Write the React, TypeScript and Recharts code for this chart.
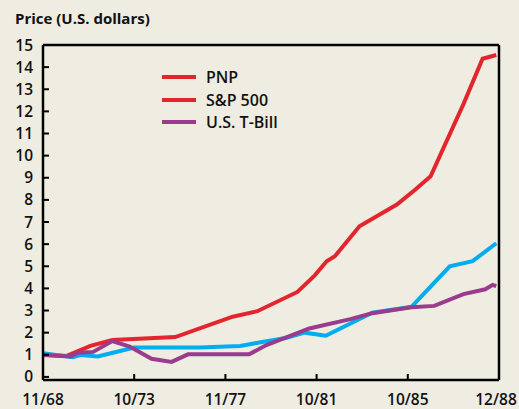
import { LineChart, Line, XAxis, YAxis, ReferenceLine, Legend } from "recharts";

const xLabels = ["11/68", "10/73", "11/77", "10/81", "10/85", "12/88"];
const yTicks = [0, 1, 2, 3, 4, 5, 6, 7, 8, 9, 10, 11, 12, 13, 14, 15];

// t = position along the date axis, measured in tick intervals
const pnp = [
  { t: 0, v: 1.0 }, { t: 0.26, v: 0.95 }, { t: 0.52, v: 1.4 }, { t: 0.76, v: 1.67 },
  { t: 1.45, v: 1.8 }, { t: 2.08, v: 2.72 }, { t: 2.35, v: 2.97 }, { t: 2.79, v: 3.84 },
  { t: 2.98, v: 4.59 }, { t: 3.11, v: 5.23 }, { t: 3.2, v: 5.45 }, { t: 3.47, v: 6.81 },
  { t: 3.88, v: 7.79 }, { t: 4.08, v: 8.46 }, { t: 4.25, v: 9.07 }, { t: 4.61, v: 12.33 },
  { t: 4.82, v: 14.38 }, { t: 4.97, v: 14.55 },
];

const sp500 = [
  { t: 0, v: 1.07 }, { t: 0.33, v: 0.89 }, { t: 0.41, v: 0.99 }, { t: 0.6, v: 0.92 },
  { t: 1.0, v: 1.33 }, { t: 1.72, v: 1.33 }, { t: 2.16, v: 1.4 }, { t: 2.34, v: 1.53 },
  { t: 2.66, v: 1.76 }, { t: 2.87, v: 2.0 }, { t: 3.1, v: 1.86 }, { t: 3.61, v: 2.9 },
  { t: 4.04, v: 3.17 }, { t: 4.46, v: 5.0 }, { t: 4.71, v: 5.23 }, { t: 4.97, v: 6.04 },
];

const tbill = [
  { t: 0, v: 0.99 }, { t: 0.3, v: 0.92 }, { t: 0.38, v: 1.09 }, { t: 0.55, v: 1.13 },
  { t: 0.76, v: 1.62 }, { t: 0.95, v: 1.37 }, { t: 1.19, v: 0.82 }, { t: 1.41, v: 0.68 },
  { t: 1.59, v: 1.02 }, { t: 2.26, v: 1.02 }, { t: 2.45, v: 1.44 }, { t: 2.92, v: 2.19 },
  { t: 3.37, v: 2.61 }, { t: 3.61, v: 2.88 }, { t: 4.04, v: 3.15 }, { t: 4.29, v: 3.21 },
  { t: 4.61, v: 3.74 }, { t: 4.85, v: 3.96 }, { t: 4.93, v: 4.16 }, { t: 4.97, v: 4.1 },
];

const RED = "#e3262e";
const BLUE = "#00adee";
const PURPLE = "#9b3b8e";
const BG = "#efece1";
const FONT = "'Open Sans', sans-serif";

const legendItems = [
  { name: "PNP", color: RED },
  { name: "S&P 500", color: RED },
  { name: "U.S. T-Bill", color: PURPLE },
];

function YTick(props: any) {
  const { x, y, payload } = props;
  return (
    <g>
      <line x1={x + 10} x2={x + 16} y1={y} y2={y} stroke="#000" strokeWidth={2} />
      <text x={x} y={y} dy={5.5} textAnchor="end" fontSize={15.5} fontWeight={600} fill="#111" fontFamily={FONT}>
        {payload.value}
      </text>
    </g>
  );
}

function XTick(props: any) {
  const { x, y, payload, index } = props;
  const last = index === xLabels.length - 1;
  const showLine = index > 0 && !last;
  return (
    <g>
      {showLine && <line x1={x} x2={x} y1={y - 6} y2={y} stroke="#000" strokeWidth={2} />}
      <text
        x={last ? x - 3 : x}
        y={y}
        dy={25}
        textAnchor="middle"
        fontSize={15.5}
        fontWeight={600}
        fill="#111"
        fontFamily={FONT}
      >
        {xLabels[payload.value]}
      </text>
    </g>
  );
}

function LegendBox() {
  return (
    <div style={{ fontFamily: FONT, fontWeight: 600, fontSize: 16, color: "#111" }}>
      {legendItems.map((it) => (
        <div key={it.name} style={{ display: "flex", alignItems: "center", height: 22.5 }}>
          <div style={{ width: 34, height: 4, background: it.color, marginRight: 10 }} />
          <span>{it.name}</span>
        </div>
      ))}
    </div>
  );
}

export default function App() {
  return (
    <div style={{ position: "fixed", left: 0, top: 0, width: 519, height: 409, background: BG }}>
      <div
        style={{
          position: "absolute",
          left: 15,
          top: 8,
          fontFamily: FONT,
          fontWeight: 700,
          fontSize: 15,
          color: "#111",
        }}
      >
        Price (U.S. dollars)
      </div>
      <LineChart width={519} height={409} margin={{ top: 45, right: 20, bottom: 0, left: 0 }}>
        <XAxis
          dataKey="t"
          type="number"
          domain={[0, 5]}
          ticks={[0, 1, 2, 3, 4, 5]}
          interval={0}
          allowDataOverflow
          height={29}
          tickSize={0}
          tickMargin={0}
          tick={<XTick />}
          axisLine={{ stroke: "#000", strokeWidth: 2.5 }}
          tickLine={false}
        />
        <YAxis
          type="number"
          domain={[-0.14, 15]}
          ticks={yTicks}
          interval={0}
          allowDataOverflow
          width={43}
          tickSize={0}
          tickMargin={10}
          tick={<YTick />}
          axisLine={{ stroke: "#000", strokeWidth: 2.5 }}
          tickLine={false}
        />
        <ReferenceLine y={15} stroke="#000" strokeWidth={2.5} />
        <ReferenceLine x={5} stroke="#000" strokeWidth={2.5} />
        <Legend
          layout="horizontal"
          verticalAlign="middle"
          align="center"
          content={<LegendBox />}
          wrapperStyle={{ left: 162, top: 66, width: 160 }}
        />
        <Line data={pnp} dataKey="v" name="PNP" stroke={RED} strokeWidth={4} dot={false} isAnimationActive={false} />
        <Line data={sp500} dataKey="v" name="S&P 500" stroke={BLUE} strokeWidth={4} dot={false} isAnimationActive={false} />
        <Line data={tbill} dataKey="v" name="U.S. T-Bill" stroke={PURPLE} strokeWidth={4} dot={false} isAnimationActive={false} />
      </LineChart>
    </div>
  );
}
